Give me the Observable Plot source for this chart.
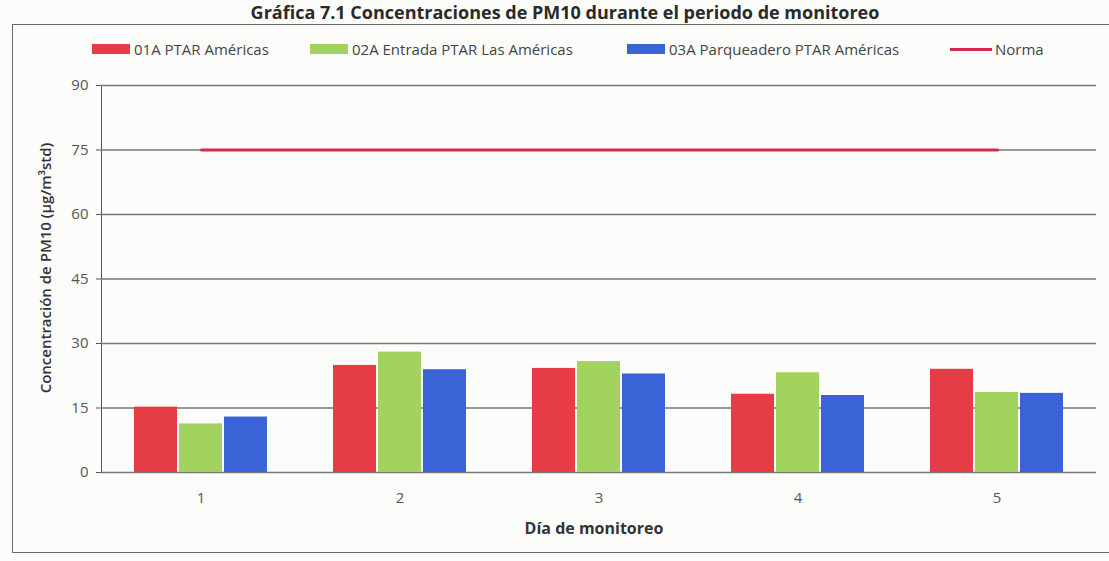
<!DOCTYPE html>
<html>
<head>
<meta charset="utf-8">
<script src="https://cdn.jsdelivr.net/npm/d3@7"></script>
<script src="https://cdn.jsdelivr.net/npm/@observablehq/plot@0.6"></script>
<style>
  body { margin: 0; background: #fcfcfa; font-family: "Open Sans", sans-serif; }
  #wrap { position: relative; width: 1109px; height: 561px; overflow: hidden; background: #fcfcfa; }
  #title { position: absolute; left: 0; top: 3px; width: 1130px; text-align: center; font-weight: 700; font-size: 18px; line-height: 18px; color: #2a2a2a; white-space: nowrap; }
  #box { position: absolute; left: 12px; top: 24px; width: 1110px; height: 529px; border: 1.5px solid #6a6a6a; box-sizing: border-box; }
  #legend { position: absolute; left: 0; top: 39px; width: 1109px; height: 20px; font-size: 15px; color: #444; }
  .li { position: absolute; top: 0; height: 20px; display: flex; align-items: center; white-space: nowrap; }
  .sw { width: 38px; height: 10px; margin-right: 4px; }
  .ln { width: 42px; height: 3px; margin-right: 3px; }
  #chart { position: absolute; left: 0; top: 60px; width: 1109px; height: 501px; }
  #chart svg { position: absolute; left: 0; top: 0; }
  #ylab { position: absolute; left: 45px; top: 268px; transform: translate(-50%, -50%) rotate(-90deg); font-size: 15px; font-weight: 600; color: #333; white-space: nowrap; }
  #xlab { position: absolute; left: 594px; top: 528px; transform: translate(-50%, -50%); font-size: 16px; font-weight: 700; color: #333; white-space: nowrap; }
</style>
</head>
<body>
<div id="wrap">
  <div id="box"></div>
  <div id="title">Gráfica 7.1 Concentraciones de PM10 durante el periodo de monitoreo</div>
  <div id="legend"></div>
  <div id="chart"></div>
  <div id="ylab">Concentración de PM10 (µg/m³std)</div>
  <div id="xlab">Día de monitoreo</div>
</div>
<script>
// ---- data ----
const days = ["1", "2", "3", "4", "5"];
const seriesNames = ["01A PTAR Américas", "02A Entrada PTAR Las Américas", "03A Parqueadero PTAR Américas"];
const s01A = [15.2, 24.9, 24.2, 18.2, 24.0];
const s02A = [11.3, 28.0, 25.8, 23.2, 18.6];
const s03A = [12.9, 23.9, 22.9, 17.9, 18.4];
const normaLabel = "Norma";
const norma = [75, 75, 75, 75, 75];
const yTicks = [0, 15, 30, 45, 60, 75, 90];
const barColors = ["#e53c45", "#a3d35f", "#3b63d8"];
const normaColor = "#d42a4e";

// ---- build tables ----
const seriesValues = [s01A, s02A, s03A];
const rows = [];
days.forEach((d, i) => seriesValues.forEach((arr, j) => rows.push({day: d, series: seriesNames[j], value: arr[i]})));
const normaRows = days.map((d, i) => ({day: d, value: norma[i]}));

const W = 1109, H = 501;
const M = {marginLeft: 100, marginRight: 12, marginTop: 25, marginBottom: 89};

const main = Plot.plot({
  width: W, height: H, ...M,
  facet: {data: rows, x: "day"},
  fx: {domain: days, padding: 0, label: null, tickSize: 0, tickPadding: 20, axis: "bottom"},
  x: {domain: seriesNames, paddingInner: 0.04, paddingOuter: 0.72, axis: null},
  y: {domain: [0, 90], ticks: yTicks, tickSize: 5, tickPadding: 8, label: null, line: true},
  color: {domain: seriesNames, range: barColors},
  style: {fontFamily: "Open Sans", fontSize: "15px", color: "#555", background: "transparent", overflow: "visible"},
  marks: [
    Plot.ruleY(yTicks, {stroke: "#777", strokeWidth: 1.5}),
    Plot.barY(rows, {x: "series", y: "value", fill: "series"})
  ]
});

const normaPlot = Plot.plot({
  width: W, height: H, ...M,
  x: {type: "point", domain: days, padding: 0.5, axis: null},
  y: {domain: [0, 90], axis: null},
  style: {background: "transparent"},
  marks: [
    Plot.lineY(normaRows, {x: "day", y: "value", stroke: normaColor, strokeWidth: 3})
  ]
});

const chart = document.getElementById("chart");
chart.appendChild(main);
chart.appendChild(normaPlot);

// ---- legend ----
const legend = document.getElementById("legend");
const legendLeft = [92, 310, 627, 950];
seriesNames.forEach((name, j) => {
  const it = document.createElement("div");
  it.className = "li";
  it.style.left = legendLeft[j] + "px";
  it.innerHTML = `<span class="sw" style="background:${barColors[j]}"></span><span>${name}</span>`;
  legend.appendChild(it);
});
const nl = document.createElement("div");
nl.className = "li";
nl.style.left = legendLeft[3] + "px";
nl.innerHTML = `<span class="ln" style="background:${normaColor}"></span><span>${normaLabel}</span>`;
legend.appendChild(nl);
</script>
</body>
</html>
